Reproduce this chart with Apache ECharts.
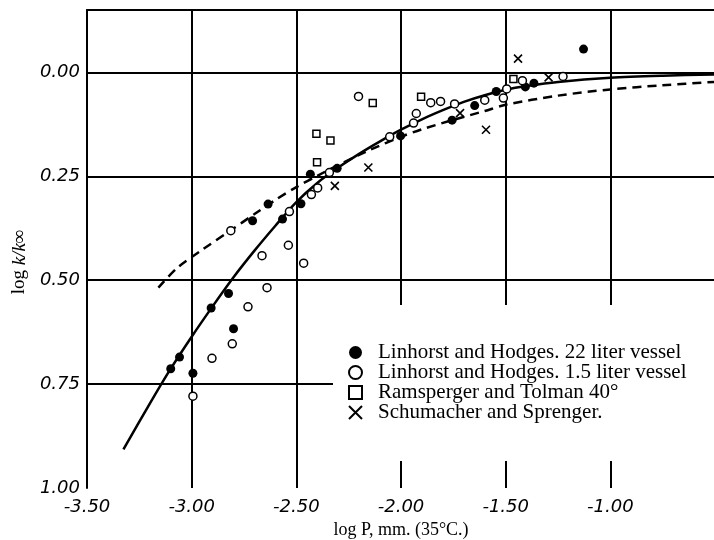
<!DOCTYPE html>
<html>
<head>
<meta charset="utf-8">
<script src="https://cdn.jsdelivr.net/npm/echarts@6/dist/echarts.min.js"></script>
<style>
  html, body { margin: 0; padding: 0; background: #fff; }
  #chart { width: 714px; height: 540px; }
</style>
</head>
<body>
<div id="chart"></div>
<script>
// values: [log P, log k/k∞]
const hodges22 = [
  [-3.100, 0.713], [-3.058, 0.685], [-2.994, 0.724], [-2.907, 0.567], [-2.824, 0.532],
  [-2.800, 0.617], [-2.709, 0.357], [-2.635, 0.317], [-2.566, 0.353], [-2.478, 0.316],
  [-2.433, 0.245], [-2.305, 0.231], [-2.002, 0.153], [-1.756, 0.115], [-1.648, 0.080],
  [-1.545, 0.046], [-1.406, 0.035], [-1.365, 0.026], [-1.128, -0.056]
]
const hodges15 = [
  [-2.994, 0.779], [-2.903, 0.688], [-2.806, 0.653], [-2.731, 0.564], [-2.813, 0.381],
  [-2.664, 0.441], [-2.640, 0.518], [-2.538, 0.416], [-2.465, 0.459], [-2.533, 0.335],
  [-2.428, 0.294], [-2.398, 0.278], [-2.342, 0.241], [-2.203, 0.058], [-2.054, 0.155],
  [-1.940, 0.122], [-1.927, 0.099], [-1.858, 0.073], [-1.811, 0.070], [-1.744, 0.076],
  [-1.600, 0.067], [-1.511, 0.062], [-1.495, 0.040], [-1.420, 0.020], [-1.226, 0.010]
]
const ramsperger = [
  [-2.404, 0.148], [-2.337, 0.164], [-2.401, 0.216], [-2.135, 0.074], [-1.904, 0.059], [-1.463, 0.016]
]
const schumacher = [
  [-2.316, 0.273], [-2.156, 0.229], [-1.718, 0.098], [-1.594, 0.138], [-1.441, -0.033], [-1.295, 0.012]
]
// the two theoretical curves
const solidCurve = [
  [-3.326, 0.907], [-3.2, 0.797], [-3.1, 0.713], [-3.0, 0.636], [-2.9, 0.563], [-2.8, 0.493],
  [-2.7, 0.429], [-2.6, 0.369], [-2.5, 0.312], [-2.4, 0.266], [-2.3, 0.229], [-2.2, 0.196],
  [-2.1, 0.166], [-2.0, 0.138], [-1.9, 0.113], [-1.8, 0.091], [-1.7, 0.071], [-1.6, 0.055],
  [-1.5, 0.042], [-1.4, 0.033], [-1.25, 0.023], [-1.0, 0.013], [-0.75, 0.008], [-0.5, 0.005]
]
const dashedCurve = [
  [-3.159, 0.518], [-3.07, 0.471], [-2.95, 0.427], [-2.816, 0.381], [-2.7, 0.341], [-2.6, 0.307],
  [-2.5, 0.276], [-2.4, 0.249], [-2.3, 0.223], [-2.146, 0.186], [-2.0, 0.155], [-1.9, 0.137],
  [-1.755, 0.115], [-1.6, 0.093], [-1.5, 0.078], [-1.25, 0.056], [-1.0, 0.041], [-0.75, 0.031], [-0.5, 0.023]
]
const yGridLines = [0, 0.25, 0.5, 0.75]
const names = [
  "Linhorst and Hodges. 22 liter vessel",
  "Linhorst and Hodges. 1.5 liter vessel",
  "Ramsperger and Tolman 40°",
  "Schumacher and Sprenger."
]
const crossPath = "path://M0,0L10,10M10,0L0,10"

const tickFont = { fontFamily: "DejaVu Sans", fontStyle: "italic", fontSize: 18, color: "#000" }
const serif = "Liberation Serif"

const option = {
  animation: false,
  backgroundColor: "#fff",
  grid: { left: 87, right: -1, top: 10, bottom: 52, outerBoundsMode: "none" },
  legend: {
    orient: "vertical",
    left: 333,
    top: 305,
    padding: [37, 80, 38, 15],
    itemGap: -1,
    itemWidth: 13,
    itemHeight: 13,
    backgroundColor: "#fff",
    z: 20,
    textStyle: { fontFamily: serif, fontSize: 21, lineHeight: 19, color: "#000", padding: [0, 0, 0, 11] },
    data: [
      { name: names[0], icon: "circle" },
      { name: names[1], icon: "circle" },
      { name: names[2], icon: "rect" },
      { name: names[3], icon: crossPath }
    ]
  },
  xAxis: [
    {
      type: "value",
      min: -3.5,
      max: -0.5,
      interval: 0.5,
      name: "log P, mm. (35°C.)",
      nameLocation: "middle",
      nameGap: 32,
      nameTextStyle: { fontFamily: serif, fontSize: 18, color: "#000" },
      axisLine: { show: true, lineStyle: { color: "#000", width: 2 } },
      axisTick: { show: false },
      splitLine: { show: true, lineStyle: { color: "#000", width: 2 } },
      axisLabel: Object.assign({
        margin: 10,
        formatter: v => (v > -0.9 ? "" : v.toFixed(2))
      }, tickFont)
    },
    {
      // top frame line
      type: "value",
      position: "top",
      min: -3.5,
      max: -0.5,
      axisLine: { show: true, onZero: false, lineStyle: { color: "#000", width: 2 } },
      axisTick: { show: false },
      axisLabel: { show: false },
      splitLine: { show: false }
    }
  ],
  yAxis: {
    type: "value",
    inverse: true,
    min: -0.15,
    max: 1.0,
    interval: 0.05,
    name: "{a|log }{b|k/k∞}",
    nameLocation: "middle",
    nameGap: 58,
    nameRotate: 90,
    nameTextStyle: {
      padding: [0, 26, 0, 0],
      rich: {
        a: { fontFamily: serif, fontSize: 19, color: "#000" },
        b: { fontFamily: serif, fontSize: 19, fontStyle: "italic", color: "#000" }
      }
    },
    axisLine: { show: true, onZero: false, lineStyle: { color: "#000", width: 2 } },
    axisTick: { show: false },
    splitLine: { show: false },
    axisLabel: Object.assign({
      margin: 7,
      formatter: v => {
        const q = v * 4
        return v >= -1e-9 && Math.abs(q - Math.round(q)) < 1e-6 ? v.toFixed(2) : ""
      }
    }, tickFont)
  },
  series: [
    {
      name: "solid",
      type: "line",
      data: solidCurve,
      smooth: 0.3,
      showSymbol: false,
      lineStyle: { color: "#000", width: 2.5 },
      markLine: {
        silent: true,
        symbol: "none",
        label: { show: false },
        lineStyle: { color: "#000", width: 2, type: "solid" },
        data: yGridLines.map(v => ({ yAxis: v }))
      },
      z: 3
    },
    {
      name: "dashed",
      type: "line",
      data: dashedCurve,
      smooth: 0.3,
      showSymbol: false,
      lineStyle: { color: "#000", width: 2.5, type: [9, 6] },
      z: 3
    },
    {
      name: names[0],
      type: "scatter",
      data: hodges22,
      symbol: "circle",
      symbolSize: 9,
      itemStyle: { color: "#000", opacity: 1 },
      z: 5
    },
    {
      name: names[1],
      type: "scatter",
      data: hodges15,
      symbol: "circle",
      symbolSize: 8,
      itemStyle: { color: "#fff", borderColor: "#000", borderWidth: 1.5, opacity: 1 },
      z: 5
    },
    {
      name: names[2],
      type: "scatter",
      data: ramsperger,
      symbol: "rect",
      symbolSize: 7,
      itemStyle: { color: "#fff", borderColor: "#000", borderWidth: 1.5, opacity: 1 },
      z: 5
    },
    {
      name: names[3],
      type: "scatter",
      data: schumacher,
      symbol: crossPath,
      symbolSize: 8,
      itemStyle: { color: "#fff", borderColor: "#000", borderWidth: 1.6, opacity: 1 },
      z: 5
    }
  ]
}

const myChart = echarts.init(document.getElementById("chart"))
myChart.setOption(option)
window.addEventListener("resize", function () {
  myChart.resize()
})
</script>
</body>
</html>
